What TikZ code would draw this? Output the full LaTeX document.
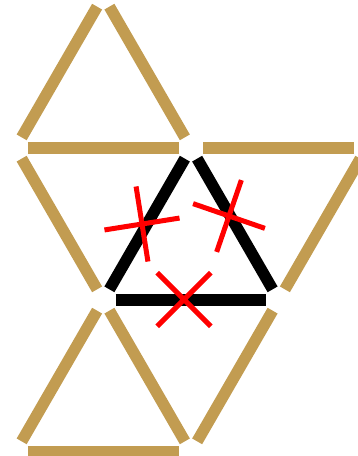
\documentclass[tikz,border=0pt]{standalone}
\usepackage{tikz}
\definecolor{Match}{HTML}{C29C51}
\definecolor{Cross}{HTML}{FF0000}

\begin{document}
\begin{tikzpicture}[x=1pt,y=-1pt,
  stick/.style={line width=11.5pt,Match,shorten >=12.3pt,shorten <=12.3pt},
  cross/.style={line width=5pt,Cross}]
  \useasboundingbox (0,0) rectangle (357,456);
  % lattice points where the matches meet
  \coordinate (t)  at (103.25,-4);
  \coordinate (ml) at (15.5,148);
  \coordinate (mc) at (191,148);
  \coordinate (mr) at (366.5,148);
  \coordinate (bl) at (103.25,300);
  \coordinate (br) at (278.75,300);
  \coordinate (dl) at (15.5,452);
  \coordinate (dc) at (191,452);
  \foreach \a/\b in {t/ml,t/mc,ml/mc,mc/mr,ml/bl,mr/br,bl/dl,bl/dc,dl/dc,br/dc}
    \draw[stick] (\a) -- (\b);
  \foreach \a/\b in {mc/bl,mc/br,bl/br}
    \draw[stick,black] (\a) -- (\b);
  % crossed-out matches
  \coordinate (x1) at (142,224);
  \coordinate (x2) at (229,216);
  \coordinate (x3) at (184,299.5);
  \foreach \c/\ang in {x1/9,x2/-19,x3/45}
    \draw[cross,shift={(\c)},rotate=\ang] (-38,0) -- (38,0) (0,-38) -- (0,38);
\end{tikzpicture}
\end{document}
